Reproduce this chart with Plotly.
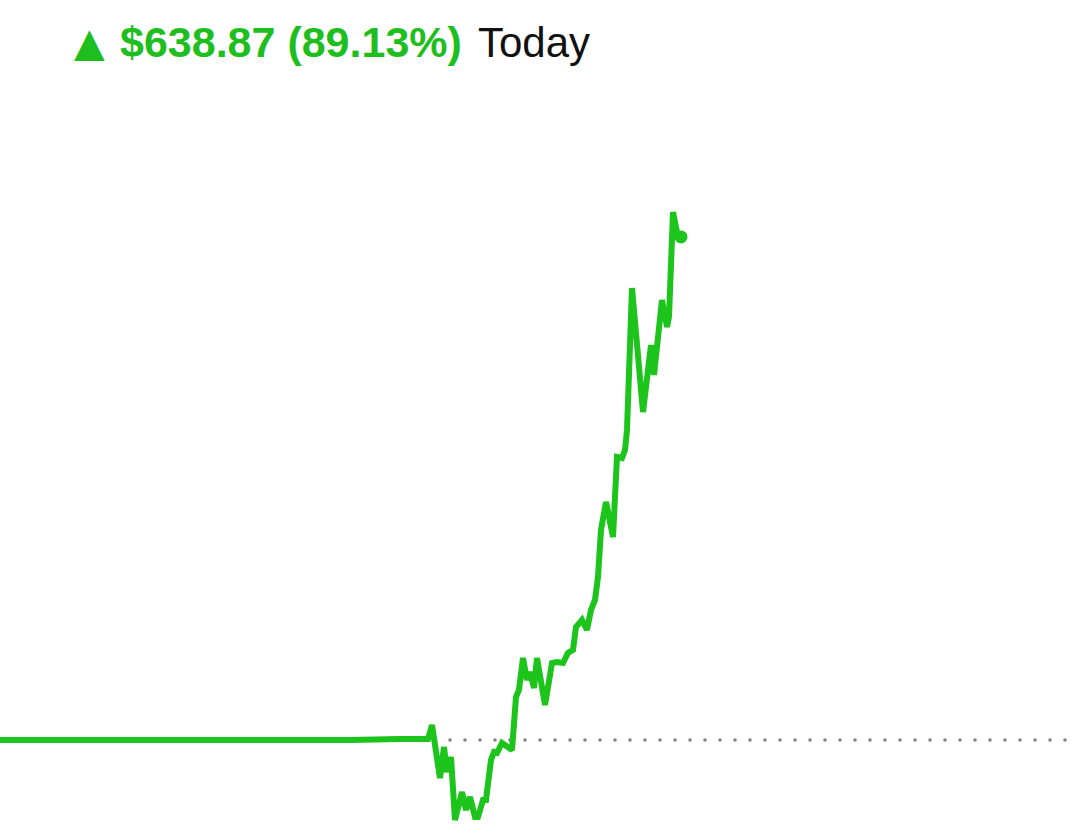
import plotly.graph_objects as go

# ---- data (time in minutes from chart start, price in $) ----
times = [0, 40, 70, 100, 150, 200, 260, 300, 350, 400, 428, 432, 440, 444, 447, 451, 455, 462,
         466, 470, 475, 478, 483, 486, 491, 494, 497, 502, 512, 516, 519, 523, 527, 530, 534,
         537, 545, 552, 557, 563, 568, 573, 576, 582, 587, 591, 595, 598, 601, 606, 613, 617,
         622, 625, 627, 632, 643, 651, 654, 662, 667, 669, 673, 677, 681]
prices = [716.78, 716.78, 715.5, 716.8, 715.5, 716.8, 715.5, 715.5, 716.8, 718.0, 718.0, 735.8,
          668.5, 707.9, 676.1, 695.2, 615.2, 650.7, 627.9, 644.4, 619.0, 619.0, 640.6, 640.6,
          691.4, 701.5, 700.3, 713.0, 704.1, 771.4, 780.3, 821.0, 793.0, 803.2, 782.8, 821.0,
          761.2, 814.6, 815.8, 814.6, 827.3, 831.1, 860.3, 869.2, 856.5, 881.9, 894.6, 923.8,
          983.5, 1019.1, 974.6, 1076.2, 1074.9, 1085.1, 1110.5, 1290.8, 1133.3, 1218.4, 1180.3,
          1275.6, 1241.3, 1254.0, 1387.3, 1361.9, 1355.65]
previous_close = 716.78
change_label = "$638.87 (89.13%)"
period_label = "Today"

GREEN = "#1cc41c"
TEXT_GREEN = "#1ebe1e"

fig = go.Figure()
fig.add_trace(go.Scatter(
    x=times, y=prices, mode="lines",
    line=dict(color=GREEN, width=6, shape="linear"),
    hoverinfo="skip", showlegend=False,
))
fig.add_trace(go.Scatter(
    x=[times[-1]], y=[prices[-1]], mode="markers",
    marker=dict(color=GREEN, size=13),
    hoverinfo="skip", showlegend=False,
))

fig.add_shape(type="line", xref="x", yref="y",
              x0=448.5, x1=1071, y0=previous_close, y1=previous_close,
              line=dict(color="#7f7f7f", width=3, dash="3px,12px"), layer="below")

px_per_dollar = 1 / 1.27
y_low = previous_close - 100 / px_per_dollar
y_high = previous_close + 740 / px_per_dollar

fig.add_annotation(xref="paper", yref="paper", x=72 / 1079, y=1 - 42 / 840,
                   xanchor="left", yanchor="middle", showarrow=False,
                   text="▲", font=dict(family="DejaVu Sans", size=40, color=TEXT_GREEN))
fig.add_annotation(xref="paper", yref="paper", x=118 / 1079, y=1 - 42 / 840,
                   xanchor="left", yanchor="middle", showarrow=False,
                   text="<b>" + change_label + "</b>",
                   font=dict(family="Liberation Sans", size=43, color=TEXT_GREEN))
fig.add_annotation(xref="paper", yref="paper", x=476 / 1079, y=1 - 42 / 840,
                   xanchor="left", yanchor="middle", showarrow=False,
                   text=period_label,
                   font=dict(family="Liberation Sans", size=42, color="#111111"))

fig.update_layout(
    width=1079, height=840,
    margin=dict(l=0, r=0, t=0, b=0),
    paper_bgcolor="white", plot_bgcolor="white",
    xaxis=dict(range=[0, 1079], visible=False, fixedrange=True),
    yaxis=dict(range=[y_low, y_high], visible=False, fixedrange=True),
)

fig.write_html("out.html", config={"displayModeBar": False},
               post_script="document.body.style.margin='0';document.body.style.overflow='hidden';")
